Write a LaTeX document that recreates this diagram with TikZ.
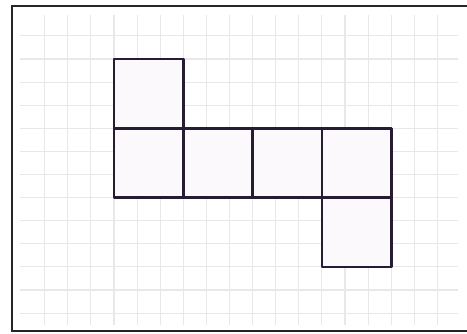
\documentclass[tikz,border=0pt]{standalone}
\usepackage{tikz}
\usetikzlibrary{calc}

\definecolor{gridgray}{RGB}{232,231,234}
\definecolor{netedge}{RGB}{38,28,52}
\definecolor{netfill}{RGB}{252,249,253}

\tikzset{
	gridline/.style={gridgray,line width=0.8pt},
	netface/.style={draw=netedge,fill=netfill,line width=2pt,line join=round}
}

\begin{document}
\begin{tikzpicture}[x=0.75pt,y=-0.75pt]
		\useasboundingbox (0,0) rectangle (467,333);
		\fill[white] (0,0) rectangle (467,333);

		% grid paper
		\foreach \k in {-3,...,14}
			\draw[gridline] (114+23.1*\k,15) -- (114+23.1*\k,325);
		\foreach \k in {-1,...,11}
			\draw[gridline] (20,59+23.1*\k) -- (458,59+23.1*\k);

		% frame
		\draw[black!85,line width=1.5pt] (12,6) rectangle (470,331);

		% cube net
		\draw[netface] (114,59) rectangle (183.3,128.3);
		\foreach \i in {0,...,3}
			\draw[netface] (114+69.3*\i,128.3) rectangle (183.3+69.3*\i,197.6);
		\draw[netface] (321.9,197.6) rectangle (391.2,266.9);
	\end{tikzpicture}
\end{document}
